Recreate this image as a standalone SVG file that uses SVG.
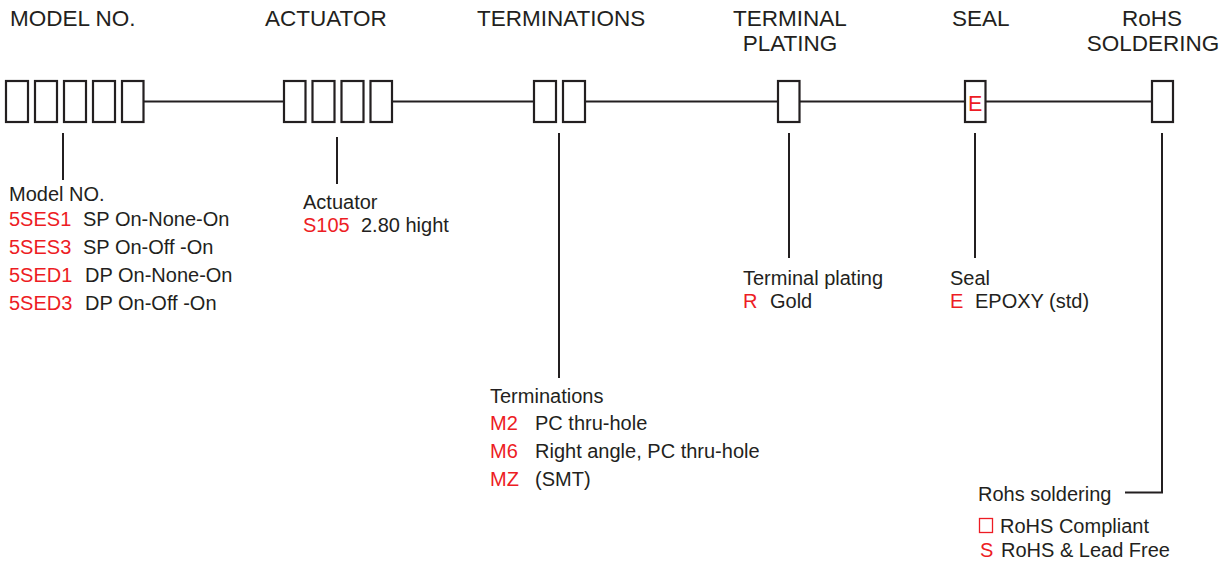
<svg xmlns="http://www.w3.org/2000/svg" width="1228" height="562" viewBox="0 0 1228 562">
<style>
text{font-family:"Liberation Sans",Arial,sans-serif;fill:#231f20}
.h{font-size:22.5px}
.t{font-size:20px}
.r{fill:#ed1c24}
.box{fill:#fff;stroke:#231f20;stroke-width:2.2}
.ln{stroke:#231f20;stroke-width:2;fill:none}
</style>
<rect width="1228" height="562" fill="#fff"/>
<g id="headers">
<text class="h" x="10" y="26">MODEL NO.</text>
<text class="h" x="265" y="26">ACTUATOR</text>
<text class="h" x="477" y="26">TERMINATIONS</text>
<text class="h" x="790" y="26" text-anchor="middle">TERMINAL</text>
<text class="h" x="790" y="51" text-anchor="middle">PLATING</text>
<text class="h" x="952" y="26">SEAL</text>
<text class="h" x="1152" y="26" text-anchor="middle">RoHS</text>
<text class="h" x="1153" y="51" text-anchor="middle">SOLDERING</text>
</g>
<g id="connectors">
<line class="ln" x1="143" y1="101.5" x2="284" y2="101.5"/>
<line class="ln" x1="392" y1="101.5" x2="534" y2="101.5"/>
<line class="ln" x1="585" y1="101.5" x2="778" y2="101.5"/>
<line class="ln" x1="799" y1="101.5" x2="965" y2="101.5"/>
<line class="ln" x1="985" y1="101.5" x2="1152" y2="101.5"/>
<line class="ln" x1="63" y1="133" x2="63" y2="180"/>
<line class="ln" x1="337" y1="137" x2="337" y2="184"/>
<line class="ln" x1="559" y1="133" x2="559" y2="378"/>
<line class="ln" x1="789" y1="133" x2="789" y2="258"/>
<line class="ln" x1="975" y1="133" x2="975" y2="258"/>
<polyline class="ln" points="1162,133 1162,492.5 1125,492.5"/>
</g>
<g id="model">
<rect class="box" x="6" y="81" width="22" height="41"/>
<rect class="box" x="35" y="81" width="22" height="41"/>
<rect class="box" x="64" y="81" width="22" height="41"/>
<rect class="box" x="93" y="81" width="22" height="41"/>
<rect class="box" x="122" y="81" width="21.5" height="41"/>
<text class="t" x="9" y="201">Model NO.</text>
<text class="t" y="226"><tspan class="r" x="9">5SES1</tspan><tspan x="83">SP On-None-On</tspan></text>
<text class="t" y="254"><tspan class="r" x="9">5SES3</tspan><tspan x="83">SP On-Off -On</tspan></text>
<text class="t" y="282"><tspan class="r" x="9">5SED1</tspan><tspan x="85">DP On-None-On</tspan></text>
<text class="t" y="310"><tspan class="r" x="9">5SED3</tspan><tspan x="85">DP On-Off -On</tspan></text>
</g>
<g id="actuator">
<rect class="box" x="284" y="81" width="21.5" height="41"/>
<rect class="box" x="312.5" y="81" width="22" height="41"/>
<rect class="box" x="341.5" y="81" width="22" height="41"/>
<rect class="box" x="370.5" y="81" width="21.5" height="41"/>
<text class="t" x="303" y="209">Actuator</text>
<text class="t" y="232"><tspan class="r" x="303">S105</tspan><tspan x="361">2.80 hight</tspan></text>
</g>
<g id="terminations">
<rect class="box" x="534" y="81" width="22" height="41"/>
<rect class="box" x="563" y="81" width="22" height="41"/>
<text class="t" x="490" y="403">Terminations</text>
<text class="t" y="430"><tspan class="r" x="490">M2</tspan><tspan x="535">PC thru-hole</tspan></text>
<text class="t" y="458"><tspan class="r" x="490">M6</tspan><tspan x="535">Right angle, PC thru-hole</tspan></text>
<text class="t" y="486"><tspan class="r" x="490">MZ</tspan><tspan x="535">(SMT)</tspan></text>
</g>
<g id="plating">
<rect class="box" x="778" y="81" width="21.5" height="41"/>
<text class="t" x="743" y="285">Terminal plating</text>
<text class="t" y="308"><tspan class="r" x="743">R</tspan><tspan x="770">Gold</tspan></text>
</g>
<g id="seal">
<rect class="box" x="965" y="81" width="20.5" height="41"/>
<text class="r" x="975.2" y="110.5" text-anchor="middle" font-size="21.5">E</text>
<text class="t" x="950" y="285">Seal</text>
<text class="t" y="308"><tspan class="r" x="950">E</tspan><tspan x="975">EPOXY (std)</tspan></text>
</g>
<g id="rohs">
<rect class="box" x="1152" y="81" width="21" height="41"/>
<text class="t" x="978" y="501">Rohs soldering</text>
<rect x="979.5" y="518.5" width="13" height="14" fill="none" stroke="#ed1c24" stroke-width="1.3"/>
<text class="t" x="1000" y="533">RoHS Compliant</text>
<text class="t" y="557"><tspan class="r" x="980">S</tspan><tspan x="1001">RoHS &amp; Lead Free</tspan></text>
</g>
</svg>
